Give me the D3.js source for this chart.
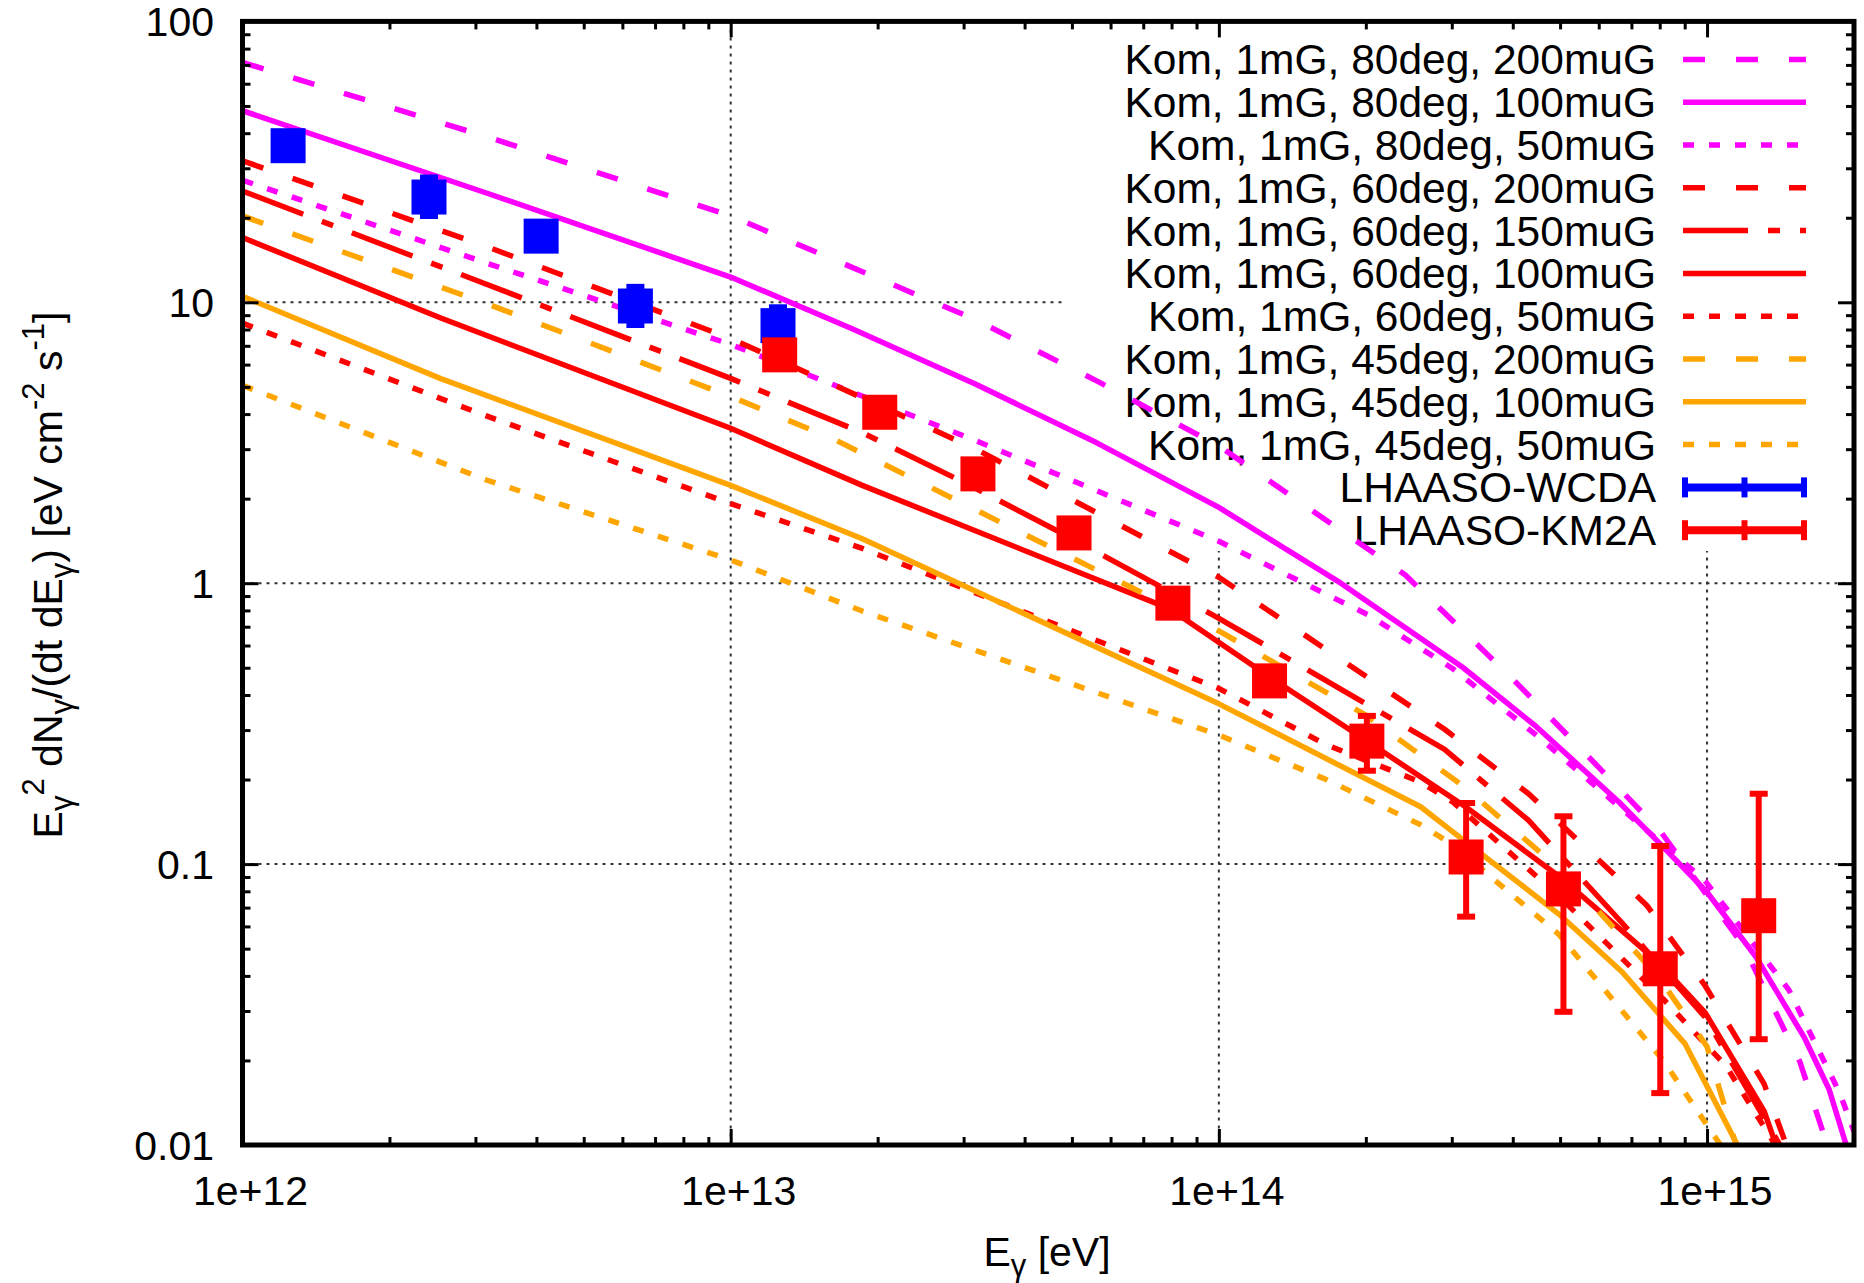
<!DOCTYPE html>
<html><head><meta charset="utf-8">
<script src="https://cdn.jsdelivr.net/npm/d3@7"></script>
<style>
body{margin:0;background:#fff}
svg{display:block}
text{font-family:"Liberation Sans",Arial,Helvetica,sans-serif;fill:#000}
</style></head>
<body><svg id="c" width="1864" height="1283"></svg>
<script>
// ---------- data ----------
const modelLabels = [
  "Kom, 1mG, 80deg, 200muG","Kom, 1mG, 80deg, 100muG","Kom, 1mG, 80deg, 50muG",
  "Kom, 1mG, 60deg, 200muG","Kom, 1mG, 60deg, 150muG","Kom, 1mG, 60deg, 100muG",
  "Kom, 1mG, 60deg, 50muG","Kom, 1mG, 45deg, 200muG","Kom, 1mG, 45deg, 100muG",
  "Kom, 1mG, 45deg, 50muG"];
const modelColors = ["#ff00ff","#ff00ff","#ff00ff","#ff0000","#ff0000","#ff0000","#ff0000","#ffa500","#ffa500","#ffa500"];
const modelDash = ["dash","solid","dot","dash","dashdot","solid","dot","dash","solid","dot"];

// energies [eV] and E^2 dN/dE [eV cm^-2 s^-1]
const E_80_200 = [1e12,3.16e12,1e13,3.16e13,5.62e13,1e14,2.41e14,3.98e14,5.64e14,8.05e14,1.186e15,1.549e15,1.78e15];
const F_80_200 = [71.4,38.9,20.3,8.7,5.25,3.08,1.07,0.46,0.247,0.130,0.0513,0.0198,0.0095];
const E_80_100 = [1e12,3.16e12,1e13,1.778e13,3.162e13,5.623e13,1e14,1.778e14,3.162e14,4.467e14,6.607e14,7.943e14,1e15,1.259e15,1.585e15,1.778e15,1.928e15,1.995e15];
const F_80_100 = [48.1,24.5,12.3,8.04,5.13,3.16,1.862,1.0,0.501,0.309,0.166,0.120,0.0794,0.0468,0.0240,0.0158,0.0100,0.0085];
const E_80_50  = [1e12,3.16e12,1e13,3.16e13,1e14,2.03e14,3.02e14,4.49e14,6.67e14,9.91e14,1.472e15,1.87e15,2.0e15];
const F_80_50  = [27.2,13.8,7.08,3.23,1.41,0.769,0.495,0.286,0.158,0.0871,0.0356,0.0153,0.0112];
const E_60_200 = [1e12,3.16e12,1e13,3.16e13,1e14,2.90e14,4.31e14,7.52e14,9.91e14,1.309e15,1.459e15];
const F_60_200 = [31.9,15.8,7.43,3.02,1.05,0.302,0.178,0.0714,0.0369,0.0165,0.0098];
const E_60_150 = [1e12,3.16e12,1e13,1.87e13,3.06e13,5.01e13,1e14,2.90e14,4.31e14,6.70e14,9.91e14,1.42e15];
const F_60_150 = [24.9,11.6,5.36,3.42,2.25,1.44,0.75,0.256,0.143,0.0617,0.0285,0.0098];
const E_60_100 = [1e12,2.54e12,1e13,1.86e13,7.94e13,1.26e14,2.00e14,3.20e14,5.05e14,7.98e14,9.91e14,1.309e15,1.39e15];
const F_60_100 = [17.0,8.81,3.56,2.23,0.81,0.468,0.276,0.160,0.0887,0.0444,0.0296,0.0132,0.0098];
const E_60_50  = [1e12,3.16e12,1e13,1.86e13,1e14,1.66e14,2.59e14,3.02e14,4.97e14,8.13e14,1.094e15,1.39e15];
const F_60_50  = [8.43,3.94,1.92,1.33,0.422,0.266,0.196,0.166,0.0769,0.0331,0.0191,0.0098];
const E_45_200 = [1e12,3.16e12,1e13,1.63e13,1e14,2.0e14,3.16e14,5.01e14,7.94e14,1e15,1.15e15];
const F_45_200 = [20.3,9.9,4.62,3.25,0.676,0.339,0.19,0.0955,0.0398,0.0224,0.0098];
const E_45_100 = [1e12,2.54e12,1e13,1.86e13,1e14,2.59e14,3.02e14,4.97e14,6.70e14,9.02e14,1.161e15];
const F_45_100 = [10.5,5.36,2.23,1.44,0.372,0.160,0.130,0.0664,0.0413,0.0229,0.0098];
const E_45_50  = [1e12,3.16e12,1e13,1.86e13,1e14,1.66e14,2.59e14,3.02e14,4.97e14,8.13e14,1.074e15];
const F_45_50  = [5.06,2.33,1.21,0.796,0.288,0.20,0.138,0.117,0.0562,0.020,0.0098];
const modelE = [E_80_200,E_80_100,E_80_50,E_60_200,E_60_150,E_60_100,E_60_50,E_45_200,E_45_100,E_45_50];
const modelF = [F_80_200,F_80_100,F_80_50,F_60_200,F_60_150,F_60_100,F_60_50,F_45_200,F_45_100,F_45_50];

const dataLabels = ["LHAASO-WCDA","LHAASO-KM2A"];
const dataColors = ["#0000ff","#ff0000"];
const wcdaE  = [1.24e12,2.41e12,4.09e12,6.38e12,1.25e13];
const wcdaF  = [36.1,23.7,17.2,9.7,8.26];
const wcdaLo = [33.5,20.3,15.8,8.3,7.6];
const wcdaHi = [39.0,27.8,18.7,11.35,9.6];
const km2aE  = [1.26e13,2.02e13,3.21e13,5.05e13,8.05e13,1.27e14,2.01e14,3.21e14,5.08e14,8.02e14,1.276e15];
const km2aF  = [6.5,4.06,2.45,1.51,0.849,0.449,0.274,0.106,0.0816,0.0424,0.0655];
const km2aLo = [6.1,3.8,2.28,1.40,0.78,0.40,0.215,0.065,0.0298,0.0153,0.0238];
const km2aHi = [6.9,4.3,2.62,1.62,0.92,0.50,0.337,0.165,0.148,0.116,0.178];

const xTickValues = [1e12,1e13,1e14,1e15];
const xTickLabels = ["1e+12","1e+13","1e+14","1e+15"];
const yTickValues = [0.01,0.1,1,10,100];
const yTickLabels = ["0.01","0.1","1","10","100"];

// ---------- layout ----------
const svg = d3.select("#c");
const L=242.5, R=1854, T=21.4, B=1145;
const x = d3.scaleLog().domain([1e12,2e15]).range([L,R]);
const y = d3.scaleLog().domain([0.01,100]).range([B,T]);
const dashArr = {solid:null, dash:"22,31", dot:"11,15", dashdot:"65,20,12,20"};
const FS = 41, LFS = 42.5;

svg.append("rect").attr("width",1864).attr("height",1283).attr("fill","#fff");
svg.append("defs").append("clipPath").attr("id","clip")
  .append("rect").attr("x",L).attr("y",T).attr("width",R-L).attr("height",B-T);

// grid
const grid = svg.append("g").attr("stroke","#333").attr("stroke-width",2).attr("stroke-dasharray","3,5");
grid.selectAll("line.gx").data(xTickValues.slice(1)).join("line").attr("class","gx")
  .attr("x1",d=>x(d)).attr("x2",d=>x(d)).attr("y1",T).attr("y2",B);
grid.selectAll("line.gy").data(yTickValues.slice(1,-1)).join("line").attr("class","gy")
  .attr("y1",d=>y(d)).attr("y2",d=>y(d)).attr("x1",L).attr("x2",R);

// legend background (opaque key)
const keyLeft = 1063, keyBottom = 551;
svg.append("rect").attr("x",keyLeft).attr("y",T).attr("width",R-keyLeft).attr("height",keyBottom-T).attr("fill","#fff");

// legend entries
const legTextRight = 1656, legX1 = 1683, legX2 = 1806, legY0 = 59.4, legDy = 42.8;
const allLabels = modelLabels.concat(dataLabels);
const leg = svg.append("g");
allLabels.forEach((lab,i)=>{
  const cy = legY0 + i*legDy;
  leg.append("text").attr("x",legTextRight).attr("y",cy+15).attr("text-anchor","end")
    .attr("font-size",LFS).text(lab);
  if(i<modelLabels.length){
    leg.append("line").attr("x1",legX1).attr("x2",legX2).attr("y1",cy).attr("y2",cy)
      .attr("stroke",modelColors[i]).attr("stroke-width",5.5)
      .attr("stroke-dasharray",dashArr[modelDash[i]]);
  } else {
    const c = dataColors[i-modelLabels.length];
    const g = leg.append("g").attr("stroke",c).attr("stroke-width",6);
    g.append("line").attr("x1",legX1).attr("x2",legX2).attr("y1",cy).attr("y2",cy).attr("stroke-width",8);
    [legX1+2,(legX1+legX2)/2,legX2-2].forEach(px=>{
      g.append("line").attr("x1",px).attr("x2",px).attr("y1",cy-10).attr("y2",cy+10);
    });
  }
});

// model curves
const line = d3.line().x(d=>x(d[0])).y(d=>y(d[1]));
const curves = svg.append("g").attr("clip-path","url(#clip)");
modelE.forEach((Es,i)=>{
  const pts = Es.map((e,j)=>[e,modelF[i][j]]);
  curves.append("path").attr("d",line(pts)).attr("fill","none")
    .attr("stroke",modelColors[i]).attr("stroke-width",5.5)
    .attr("stroke-linejoin","round")
    .attr("stroke-dasharray",dashArr[modelDash[i]]);
});

// data points with error bars
function drawData(E,F,Lo,Hi,color){
  const g = svg.append("g").attr("clip-path","url(#clip)");
  E.forEach((e,j)=>{
    const px = x(e);
    g.append("line").attr("x1",px).attr("x2",px).attr("y1",y(Lo[j])).attr("y2",y(Hi[j]))
      .attr("stroke",color).attr("stroke-width",6);
    [Lo[j],Hi[j]].forEach(v=>{
      g.append("line").attr("x1",px-9).attr("x2",px+9).attr("y1",y(v)).attr("y2",y(v))
        .attr("stroke",color).attr("stroke-width",6);
    });
    g.append("rect").attr("x",px-17.5).attr("y",y(F[j])-17.5).attr("width",35).attr("height",35).attr("fill",color);
  });
}
drawData(wcdaE,wcdaF,wcdaLo,wcdaHi,dataColors[0]);
drawData(km2aE,km2aF,km2aLo,km2aHi,dataColors[1]);

// ticks (major + minor) on all four sides
const xMinor=[], yMinor=[];
for(let d=12; d<=15; d++) for(let k=2;k<=9;k++){const v=k*Math.pow(10,d); if(v<2e15) xMinor.push(v);}
for(let d=-2; d<=1; d++) for(let k=2;k<=9;k++){yMinor.push(k*Math.pow(10,d));}
function tickAxis(gen, vals, size, tr){
  const g = svg.append("g").attr("transform",tr).call(gen.tickValues(vals).tickSize(size).tickFormat(""));
  g.select(".domain").remove();
  g.selectAll(".tick line").attr("stroke","#000").attr("stroke-width",3);
}
tickAxis(d3.axisBottom(x), xTickValues.slice(1), -16, `translate(0,${B})`);
tickAxis(d3.axisBottom(x), xMinor, -8, `translate(0,${B})`);
tickAxis(d3.axisTop(x), xTickValues.slice(1), -16, `translate(0,${T})`);
tickAxis(d3.axisTop(x), xMinor, -8, `translate(0,${T})`);
tickAxis(d3.axisLeft(y), yTickValues.slice(1,-1), -16, `translate(${L},0)`);
tickAxis(d3.axisLeft(y), yMinor, -8, `translate(${L},0)`);
tickAxis(d3.axisRight(y), yTickValues.slice(1,-1), -16, `translate(${R},0)`);
tickAxis(d3.axisRight(y), yMinor, -8, `translate(${R},0)`);

// border
svg.append("rect").attr("x",L).attr("y",T).attr("width",R-L).attr("height",B-T)
  .attr("fill","none").attr("stroke","#000").attr("stroke-width",5);

// tick labels
svg.append("g").selectAll("text").data(xTickValues).join("text")
  .attr("x",(d)=>x(d)+8).attr("y",1205).attr("text-anchor","middle").attr("font-size",FS)
  .text((d,i)=>xTickLabels[i]);
svg.append("g").selectAll("text").data(yTickValues).join("text")
  .attr("x",214).attr("y",d=>y(d)+14.5).attr("text-anchor","end").attr("font-size",FS)
  .text((d,i)=>yTickLabels[i]);

// axis titles
const xt = svg.append("text").attr("x",1047).attr("y",1266).attr("text-anchor","middle").attr("font-size",FS);
xt.append("tspan").text("E");
xt.append("tspan").attr("dy",10).attr("font-size",31).text("γ");
xt.append("tspan").attr("dy",-10).text(" [eV]");

const yt = svg.append("text").attr("transform","translate(62,575) rotate(-90)")
  .attr("text-anchor","middle").attr("font-size",FS);
yt.append("tspan").text("E");
yt.append("tspan").attr("dy",10).attr("font-size",31).text("γ");
yt.append("tspan").attr("dy",-28).attr("font-size",31).text("2");
yt.append("tspan").attr("dy",18).text(" dN");
yt.append("tspan").attr("dy",10).attr("font-size",31).text("γ");
yt.append("tspan").attr("dy",-10).text("/(dt dE");
yt.append("tspan").attr("dy",10).attr("font-size",31).text("γ");
yt.append("tspan").attr("dy",-10).text(") [eV cm");
yt.append("tspan").attr("dy",-18).attr("font-size",31).text("-2");
yt.append("tspan").attr("dy",18).text(" s");
yt.append("tspan").attr("dy",-18).attr("font-size",31).text("-1");
yt.append("tspan").attr("dy",18).text("]");
</script>
</body></html>
